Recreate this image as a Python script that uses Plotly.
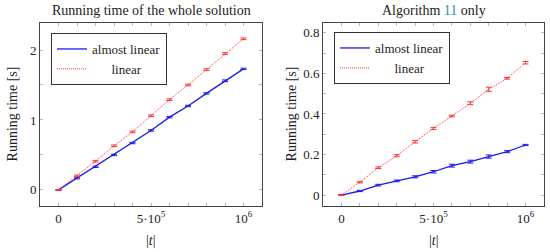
import plotly.graph_objects as go

sizes = [0, 1e5, 2e5, 3e5, 4e5, 5e5, 6e5, 7e5, 8e5, 9e5, 1e6]

# whole solution
whole_almost = [0, 0.17, 0.33, 0.50, 0.67, 0.85, 1.04, 1.20, 1.38, 1.56, 1.73]
whole_almost_err = [0.005, 0.012, 0.01, 0.01, 0.01, 0.01, 0.01, 0.01, 0.01, 0.012, 0.01]
whole_linear = [0, 0.20, 0.41, 0.63, 0.83, 1.06, 1.29, 1.50, 1.72, 1.95, 2.16]
whole_linear_err = [0.005, 0.012, 0.012, 0.012, 0.012, 0.012, 0.012, 0.012, 0.012, 0.012, 0.012]

# algorithm 11 only
alg_almost = [0, 0.02, 0.049, 0.07, 0.09, 0.115, 0.145, 0.165, 0.19, 0.214, 0.247]
alg_almost_err = [0.002, 0.003, 0.004, 0.004, 0.005, 0.006, 0.007, 0.007, 0.008, 0.005, 0.003]
alg_linear = [0, 0.063, 0.135, 0.194, 0.263, 0.329, 0.39, 0.453, 0.522, 0.576, 0.653]
alg_linear_err = [0.002, 0.003, 0.004, 0.005, 0.006, 0.005, 0.004, 0.007, 0.01, 0.004, 0.006]

x_tickvals = [0, 5e5, 1e6]
x_ticktext = ["0", "5·10<sup>5</sup>", "10<sup>6</sup>"]

BLUE = "#1a1aee"
RED = "#ff3333"
FONT = "Liberation Serif"

fig = go.Figure()

def add(x, y, err, name, color, dash, xa, ya, legend):
    fig.add_trace(go.Scatter(
        x=x, y=y, name=name, mode="lines", xaxis=xa, yaxis=ya, legend=legend,
        line=dict(color=color, width=1.3 if dash == "solid" else 1, dash=dash),
        error_y=dict(type="data", array=err, color=color, thickness=1, width=3),
    ))

add(sizes, whole_almost, whole_almost_err, "almost linear", BLUE, "solid", "x", "y", "legend")
add(sizes, whole_linear, whole_linear_err, "&nbsp;&nbsp;&nbsp;&nbsp;&nbsp;&nbsp;linear", RED, "1px,1px", "x", "y", "legend")
add(sizes, alg_almost, alg_almost_err, "almost linear", BLUE, "solid", "x2", "y2", "legend2")
add(sizes, alg_linear, alg_linear_err, "&nbsp;&nbsp;&nbsp;&nbsp;&nbsp;&nbsp;linear", RED, "1px,1px", "x2", "y2", "legend2")

common_x = dict(
    range=[-0.1e6, 1.1e6], tickvals=x_tickvals, ticktext=x_ticktext,
    ticks="inside", ticklen=3, tickcolor="#bbbbbb", mirror="ticks",
    showline=True, linecolor="#444444", linewidth=1, showgrid=False, zeroline=False,
    tickfont=dict(size=13),
    minor=dict(dtick=1e5, tick0=0, ticks="inside", ticklen=3, tickcolor="#bbbbbb"),
)
common_y = dict(
    ticks="inside", ticklen=3, tickcolor="#bbbbbb", mirror="ticks",
    showline=True, linecolor="#444444", linewidth=1, showgrid=False, zeroline=False,
    tickfont=dict(size=13),
)

legend_style = dict(xanchor="left", yanchor="top", bgcolor="white",
                    bordercolor="#333333", borderwidth=1, font=dict(size=13),
                    tracegroupgap=0, itemwidth=30)

def note(text, x, y, angle=0, size=14):
    return dict(text=text, x=x, y=y, xref="paper", yref="paper", xanchor="center", yanchor="middle",
                showarrow=False, textangle=angle, font=dict(size=size))

fig.update_layout(
    width=550, height=252,
    margin=dict(l=0, r=0, t=0, b=0),
    paper_bgcolor="white", plot_bgcolor="white",
    font=dict(family=FONT, size=12, color="#222222"),
    showlegend=True,
    xaxis=dict(domain=[40 / 550, 262 / 550], anchor="y", **common_x),
    yaxis=dict(domain=[1 - 206 / 252, 1 - 23 / 252], anchor="x", range=[-0.23, 2.386],
               tickvals=[0, 1, 2], minor=dict(dtick=0.5, tick0=0, ticks="inside", ticklen=3, tickcolor="#bbbbbb"),
               **common_y),
    xaxis2=dict(domain=[323 / 550, 544 / 550], anchor="y2", **common_x),
    yaxis2=dict(domain=[1 - 206 / 252, 1 - 23 / 252], anchor="x2", range=[-0.054, 0.849],
                tickvals=[0, 0.2, 0.4, 0.6, 0.8], ticktext=["0", "0.2", "0.4", "0.6", "0.8"],
                minor=dict(dtick=0.1, tick0=0, ticks="inside", ticklen=3, tickcolor="#bbbbbb"),
                **common_y),
    legend=dict(x=51 / 550, y=1 - 33 / 252, **legend_style),
    legend2=dict(x=334 / 550, y=1 - 32 / 252, **legend_style),
    annotations=[
        note("Running time of the whole solution", 151 / 550, 1 - 11 / 252),
        note("Algorithm <span style='color:#2b8cbe'>11</span> only", 434 / 550, 1 - 11 / 252),
        note("|<i>t</i>|", 151 / 550, 1 - 240 / 252),
        note("|<i>t</i>|", 434 / 550, 1 - 240 / 252),
        note("Running time [s]", 12 / 550, 0.546, angle=-90),
        note("Running time [s]", 291 / 550, 0.546, angle=-90),
    ],
)

# the page body has a default 8px margin; drop it so the figure sits at the window corner
fig.write_html("out.html", config={"displayModeBar": False},
               post_script="document.body.style.margin='0';")
